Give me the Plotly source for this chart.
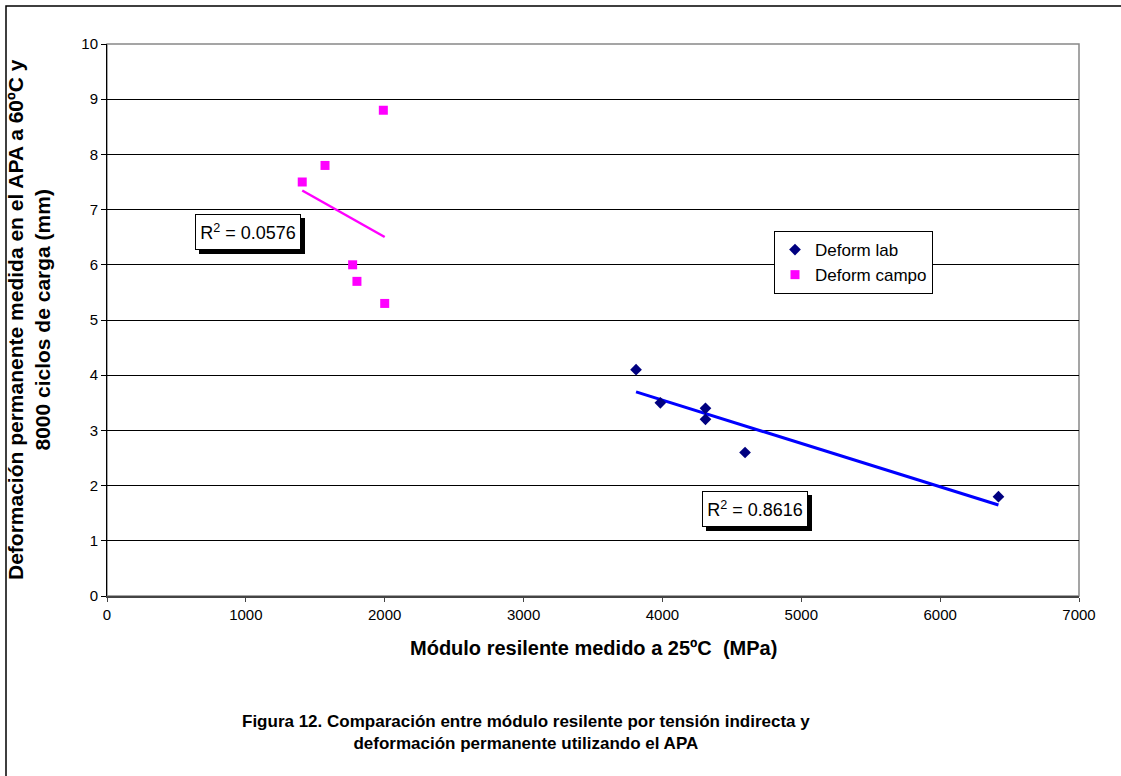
import numpy as np
import plotly.graph_objects as go

# Laboratory (APA lab) measurements
lab_modulo = [3810, 3985, 4310, 4310, 4595, 6420]
lab_deform = [4.1, 3.5, 3.4, 3.2, 2.6, 1.8]

# Field measurements
campo_modulo = [1990, 1570, 1406, 1769, 1800, 2000]
campo_deform = [8.8, 7.8, 7.5, 6.0, 5.7, 5.3]

r2_lab_text = "R<sup>2</sup> = 0.8616"
r2_campo_text = "R<sup>2</sup> = 0.0576"

x_ticks = [0, 1000, 2000, 3000, 4000, 5000, 6000, 7000]
y_ticks = list(range(0, 11))

W, H = 1121, 776
ML, MR, MT, MB = 107, 42, 44, 180
PW, PH = W - ML - MR, H - MT - MB


def px(x):
    return (x - ML) / PW


def py(y):
    return (H - MB - y) / PH


def trend(xs, ys):
    xs = np.asarray(xs, float)
    ys = np.asarray(ys, float)
    m, b = np.polyfit(xs, ys, 1)
    xe = np.array([xs.min(), xs.max()])
    return xe, m * xe + b


FONT = "Liberation Sans, Arial, sans-serif"

fig = go.Figure()

lx, ly = trend(lab_modulo, lab_deform)
cx, cy = trend(campo_modulo, campo_deform)

fig.add_trace(go.Scatter(x=lx, y=ly, mode="lines", line=dict(color="#0000FF", width=3),
                         showlegend=False, hoverinfo="skip"))
fig.add_trace(go.Scatter(x=cx, y=cy, mode="lines", line=dict(color="#FF00FF", width=2.5),
                         showlegend=False, hoverinfo="skip"))
fig.add_trace(go.Scatter(x=lab_modulo, y=lab_deform, mode="markers", name="Deform lab",
                         marker=dict(symbol="diamond", size=9, color="#000080")))
fig.add_trace(go.Scatter(x=campo_modulo, y=campo_deform, mode="markers", name="Deform campo",
                         marker=dict(symbol="square", size=9, color="#FF00FF")))

# outer frame (only top/left edges fall inside the page)
fig.add_shape(type="rect", xref="paper", yref="paper",
              x0=px(6), y0=py(W + 10), x1=px(W + 10), y1=py(6),
              line=dict(color="#000", width=1.5), layer="below")
# plot area border
fig.add_shape(type="rect", xref="paper", yref="paper", x0=0, y0=0, x1=1, y1=1,
              line=dict(color="#888", width=1.5), layer="below")


def r2_box(x, y, text):
    common = dict(x=x, y=y, xref="x", yref="y", showarrow=False, text=text,
                  font=dict(family=FONT, size=18), borderpad=2, borderwidth=1,
                  width=100, height=30, align="center", valign="middle")
    fig.add_annotation(**common, xshift=4, yshift=-4, bgcolor="#000", bordercolor="#000")
    fig.add_annotation(**common, bgcolor="#fff", bordercolor="#000")


r2_box(1018, 6.6, r2_campo_text)
r2_box(4666, 1.57, r2_lab_text)

fig.add_annotation(xref="paper", yref="paper", x=0.5, y=py(648), showarrow=False,
                   text="<b>Módulo resilente medido a 25ºC&nbsp; (MPa)</b>",
                   font=dict(family=FONT, size=20, color="#000"), yanchor="middle")
fig.add_annotation(xref="paper", yref="paper", x=px(29), y=0.5, showarrow=False, textangle=-90,
                   text="<b>Deformación permanente medida en el APA a 60ºC y<br>8000 ciclos de carga (mm)</b>",
                   font=dict(family=FONT, size=21, color="#000"), xanchor="center", yanchor="middle")
fig.add_annotation(xref="paper", yref="paper", x=px(526), y=py(732), showarrow=False,
                   text="<b>Figura 12. Comparación entre módulo resilente por tensión indirecta y<br>"
                        "deformación permanente utilizando el APA</b>",
                   font=dict(family=FONT, size=17, color="#000"), yanchor="middle")

fig.update_layout(
    width=W, height=H,
    margin=dict(l=ML, r=MR, t=MT, b=MB),
    paper_bgcolor="#fff", plot_bgcolor="#fff",
    font=dict(family=FONT, size=15, color="#000"),
    legend=dict(x=px(774), y=py(231), xanchor="left", yanchor="top",
                bgcolor="#fff", bordercolor="#000", borderwidth=1,
                font=dict(family=FONT, size=17), tracegroupgap=0),
    xaxis=dict(range=[0, 7000], tickvals=x_ticks, showgrid=False, zeroline=False,
               showline=True, linecolor="#444", linewidth=2,
               ticks="outside", ticklen=4, tickcolor="#444",
               tickfont=dict(family=FONT, size=15)),
    yaxis=dict(range=[0, 10], tickvals=y_ticks, showgrid=True, gridcolor="#000", gridwidth=1,
               zeroline=False, showline=True, linecolor="#000", linewidth=1,
               ticks="outside", ticklen=5, tickcolor="#000",
               tickfont=dict(family=FONT, size=15)),
)

fig.write_html("out.html")
